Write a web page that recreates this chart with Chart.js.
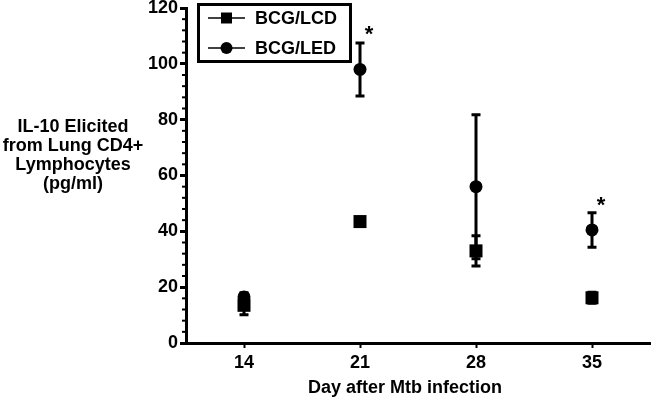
<!DOCTYPE html>
<html>
<head>
<meta charset="utf-8">
<script src="https://cdn.jsdelivr.net/npm/chart.js@4"></script>
<style>
  body { margin: 0; background: #fff; }
  #wrap { width: 652px; height: 399px; }
</style>
</head>
<body>
<div id="wrap"><canvas id="il10"></canvas></div>
<script>
// values
var days = [14, 21, 28, 35];
var lcdMean = [13.5, 43.5, 33, 16.2];
var lcdErr = [3.4, 1, 5.4, 2];
var ledMean = [16.5, 98, 56, 40.5];
var ledErr = [1.5, 9.5, 25.8, 6.2];
var starDays = [21, 35];
var starVals = [113, 51.5];
var yTicks = [0, 20, 40, 60, 80, 100, 120];
var yTitle = ['IL-10 Elicited', 'from Lung CD4+', 'Lymphocytes', '(pg/ml)'];
var xTitle = 'Day after Mtb infection';

var FONT = '"Liberation Sans", Arial, Helvetica, sans-serif';

function pts(ys) {
  return days.map(function(d, i) { return {x: d, y: ys[i]}; });
}

// error bars, minor ticks, titles, asterisks and the boxed legend
var extras = {
  id: 'extras',
  beforeDatasetsDraw: function(chart) {
    var ctx = chart.ctx, x = chart.scales.x, y = chart.scales.y;
    ctx.save();
    ctx.strokeStyle = '#000';
    ctx.lineWidth = 3;
    [[lcdMean, lcdErr], [ledMean, ledErr]].forEach(function(s) {
      days.forEach(function(d, i) {
        var px = x.getPixelForValue(d);
        var top = y.getPixelForValue(s[0][i] + s[1][i]);
        var bot = y.getPixelForValue(s[0][i] - s[1][i]);
        ctx.beginPath();
        ctx.moveTo(px, top); ctx.lineTo(px, bot);
        ctx.moveTo(px - 4.5, top); ctx.lineTo(px + 4.5, top);
        ctx.moveTo(px - 4.5, bot); ctx.lineTo(px + 4.5, bot);
        ctx.stroke();
      });
    });
    ctx.restore();
  },
  afterDraw: function(chart) {
    var ctx = chart.ctx, x = chart.scales.x, y = chart.scales.y;
    var left = chart.chartArea.left;
    ctx.save();
    ctx.fillStyle = '#000';
    ctx.strokeStyle = '#000';

    // minor ticks every 4
    ctx.lineWidth = 2;
    for (var v = 4; v < 120; v += 4) {
      if (v % 20 === 0) continue;
      var py = y.getPixelForValue(v);
      ctx.beginPath();
      ctx.moveTo(left - 4, py); ctx.lineTo(left - 1, py);
      ctx.stroke();
    }

    // axis titles
    ctx.font = 'bold 18px ' + FONT;
    ctx.textAlign = 'center';
    ctx.textBaseline = 'middle';
    yTitle.forEach(function(t, i) { ctx.fillText(t, 73, 127 + i * 19); });
    ctx.fillText(xTitle, 405, 388);

    // significance stars
    ctx.font = 'bold 22px ' + FONT;
    ctx.textBaseline = 'alphabetic';
    starDays.forEach(function(d, i) {
      ctx.fillText('*', x.getPixelForValue(d) + 9, y.getPixelForValue(starVals[i]) + 13);
    });

    // legend box
    ctx.font = 'bold 18px ' + FONT;
    ctx.textBaseline = 'middle';
    ctx.lineWidth = 3;
    ctx.strokeRect(198.5, 4.5, 152, 57);
    ctx.textAlign = 'left';
    chart.data.datasets.forEach(function(ds, i) {
      var cy = 18 + i * 30;
      ctx.lineWidth = 1.5;
      ctx.beginPath();
      ctx.moveTo(208, cy); ctx.lineTo(245, cy);
      ctx.stroke();
      ctx.beginPath();
      if (ds.pointStyle === 'rect') {
        ctx.rect(221, cy - 5.5, 11, 11);
      } else {
        ctx.arc(226.5, cy, 6, 0, Math.PI * 2);
      }
      ctx.fill();
      ctx.fillText(ds.label, 255, cy + 1);
    });
    ctx.restore();
  }
};

new Chart('il10', {
  type: 'line',
  data: {
    datasets: [
      {
        label: 'BCG/LCD',
        data: pts(lcdMean),
        showLine: false,
        pointStyle: 'rect',
        pointRadius: 9.2,
        backgroundColor: '#000',
        borderColor: '#000',
        borderWidth: 0
      },
      {
        label: 'BCG/LED',
        data: pts(ledMean),
        showLine: false,
        pointStyle: 'circle',
        pointRadius: 6.5,
        backgroundColor: '#000',
        borderColor: '#000',
        borderWidth: 0
      }
    ]
  },
  plugins: [extras],
  options: {
    responsive: true,
    maintainAspectRatio: false,
    animation: false,
    layout: { autoPadding: false, padding: { top: 8, right: 2, left: 0, bottom: 0 } },
    plugins: { legend: { display: false }, tooltip: { enabled: false } },
    scales: {
      x: {
        type: 'linear',
        min: 10.5,
        max: 38.5,
        afterBuildTicks: function(s) { s.ticks = days.map(function(d) { return {value: d}; }); },
        afterFit: function(s) { s.height = 56; s.paddingLeft = 0; s.paddingRight = 0; },
        border: { color: '#000', width: 3 },
        grid: { drawOnChartArea: false, color: '#000', tickLength: 5, tickWidth: 2 },
        ticks: { color: '#000', padding: 4, font: { family: FONT, size: 18, weight: 'bold' } }
      },
      y: {
        min: 0,
        max: 120,
        afterBuildTicks: function(s) { s.ticks = yTicks.map(function(v) { return {value: v}; }); },
        afterFit: function(s) { s.width = 186; s.paddingTop = 0; s.paddingBottom = 0; },
        border: { color: '#000', width: 3 },
        grid: { drawOnChartArea: false, color: '#000', tickLength: 6, tickWidth: 3 },
        ticks: { color: '#000', padding: 2, font: { family: FONT, size: 18, weight: 'bold' } }
      }
    }
  }
});
</script>
</body>
</html>
